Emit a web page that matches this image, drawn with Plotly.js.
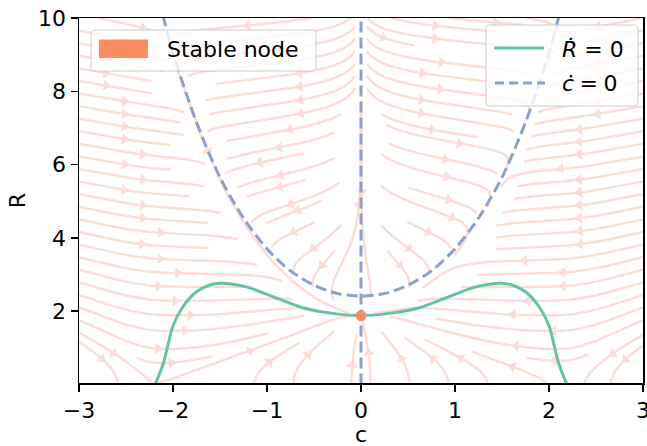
<!DOCTYPE html>
<html><head><meta charset="utf-8">
<script src="https://cdn.plot.ly/plotly-3.0.1.min.js"></script>
<style>html,body{margin:0;padding:0;background:#fff}</style>
</head><body>
<div id="chart" style="width:647px;height:446px"></div>
<script>
// ---- values ----
const rdotC = [-2.19, -2.1, -2.0, -1.9, -1.75, -1.6, -1.5, -1.4, -1.2, -0.9, -0.6, -0.3, 0, 0.3, 0.6, 0.9, 1.2, 1.4, 1.5, 1.6, 1.75, 1.9, 2.0, 2.1, 2.19];
const rdotR = [0.0, 0.6, 1.6, 2.1, 2.53, 2.72, 2.76, 2.75, 2.65, 2.36, 2.08, 1.94, 1.88, 1.94, 2.08, 2.36, 2.65, 2.75, 2.76, 2.72, 2.53, 2.1, 1.6, 0.6, 0.0];
const cdotC = [-2.15, -2.0, -1.75, -1.5, -1.25, -1.0, -0.75, -0.5, -0.25, 0, 0.25, 0.5, 0.75, 1.0, 1.25, 1.5, 1.75, 2.0, 2.15];
const cdotR = [10.5, 9.05, 7.15, 5.65, 4.54, 3.70, 3.10, 2.71, 2.48, 2.41, 2.48, 2.71, 3.10, 3.70, 4.54, 5.65, 7.15, 9.05, 10.5];
const axisLineC = [0, 0];
const axisLineR = [0, 10];
const nodeC = [0];
const nodeR = [1.88];
const xTicks = [-3, -2, -1, 0, 1, 2, 3];
const yTicks = [2, 4, 6, 8, 10];
const xRange = [-3, 3];
const yRange = [0.04, 10];

// ---- direction field built from the nullclines (only used to trace the faint streamlines) ----
function interp(xs, ys, x) {
  const n = xs.length;
  let i = 0;
  if (x <= xs[0]) i = 0;
  else if (x >= xs[n - 1]) i = n - 2;
  else { while (xs[i + 1] < x) i++; }
  const t = (x - xs[i]) / (xs[i + 1] - xs[i]);
  return ys[i] + t * (ys[i + 1] - ys[i]);
}
function Pf(c) { return interp(cdotC, cdotR, c); }
function Gf(c) {
  const a = Math.abs(c), cmax = rdotC[rdotC.length - 1];
  if (a > cmax) return -60 * (a - cmax);
  return interp(rdotC, rdotR, c);
}
function vel(c, R) { return [c * (R - Pf(c)), 2.0 * (Gf(c) - R) / R]; }

// ---- streamplot (same scheme as matplotlib: 30x30 mask, RK12, midpoint arrows) ----
const NM = 30;
const mask = new Uint8Array(NM * NM);
const X0 = xRange[0], XW = xRange[1] - xRange[0], Y0 = yRange[0], YW = yRange[1] - yRange[0];
const OOB = {}, TERM = {};
function inside(x, y) { return x >= 0 && x <= 1 && y >= 0 && y <= 1; }
function f(ax, ay, sgn) {
  if (!inside(ax, ay)) throw OOB;
  const w = vel(X0 + ax * XW, Y0 + ay * YW);
  const ua = w[0] / XW, va = w[1] / YW;
  const sp = Math.hypot(ua, va);
  if (!(sp > 0) || !isFinite(sp)) throw TERM;
  return [sgn * ua / sp, sgn * va / sp];
}
let cur = null, trajCells = [];
function cellOf(ax, ay) { return [Math.floor(ax * (NM - 1) + 0.5), Math.floor(ay * (NM - 1) + 0.5)]; }
function update(ax, ay) {
  if (!inside(ax, ay)) return false;
  const m = cellOf(ax, ay);
  if (cur === null || m[0] !== cur[0] || m[1] !== cur[1]) {
    const idx = m[1] * NM + m[0];
    if (mask[idx] === 0) { trajCells.push(idx); mask[idx] = 1; cur = m; return true; }
    return false;
  }
  return true;
}
function euler(pts, sgn) {
  const p = pts[pts.length - 1];
  let c;
  try { c = f(p[0], p[1], sgn); } catch (e) { return 0; }
  const dsx = c[0] === 0 ? Infinity : (c[0] < 0 ? p[0] / -c[0] : (1 - p[0]) / c[0]);
  const dsy = c[1] === 0 ? Infinity : (c[1] < 0 ? p[1] / -c[1] : (1 - p[1]) / c[1]);
  const ds = Math.min(dsx, dsy);
  pts.push([p[0] + c[0] * ds, p[1] + c[1] * ds]);
  return ds;
}
function rk12(x0, y0, sgn) {
  const maxds = 1 / NM, maxerr = 0.003, maxlen = 4.0;
  let ds = maxds, stotal = 0, xi = x0, yi = y0;
  const pts = [];
  while (true) {
    let k1, k2;
    if (inside(xi, yi)) pts.push([xi, yi]);
    try {
      if (!inside(xi, yi)) throw OOB;
      k1 = f(xi, yi, sgn);
      k2 = f(xi + ds * k1[0], yi + ds * k1[1], sgn);
    } catch (e) {
      if (e === OOB && pts.length) stotal += euler(pts, sgn);
      break;
    }
    const dx1 = ds * k1[0], dy1 = ds * k1[1];
    const dx2 = ds * 0.5 * (k1[0] + k2[0]), dy2 = ds * 0.5 * (k1[1] + k2[1]);
    const err = Math.hypot(dx2 - dx1, dy2 - dy1);
    if (err < maxerr) {
      xi += dx2; yi += dy2;
      if (!update(xi, yi)) break;
      if (stotal + ds > maxlen) break;
      stotal += ds;
    }
    ds = err === 0 ? maxds : Math.min(maxds, 0.85 * ds * Math.sqrt(maxerr / err));
  }
  return [stotal, pts];
}
function integrate(x0, y0) {
  trajCells = []; cur = null;
  if (!update(x0, y0)) return null;
  const b = rk12(x0, y0, -1);
  cur = cellOf(x0, y0);
  const fw = rk12(x0, y0, 1);
  const pts = b[1].reverse().concat(fw[1].slice(1));
  if (b[0] + fw[0] > 0.1) return pts;
  trajCells.forEach(i => { mask[i] = 0; });
  return null;
}
function* spiral(n) {
  let xf = 0, yf = 1, xl = n - 1, yl = n - 1, x = 0, y = 0, dir = 'right';
  for (let i = 0; i < n * n; i++) {
    yield [x, y];
    if (dir === 'right') { x++; if (x >= xl) { xl--; dir = 'up'; } }
    else if (dir === 'up') { y++; if (y >= yl) { yl--; dir = 'left'; } }
    else if (dir === 'left') { x--; if (x <= xf) { xf++; dir = 'down'; } }
    else { y--; if (y <= yf) { yf++; dir = 'right'; } }
  }
}
const trajs = [];
for (const [xm, ym] of spiral(NM)) {
  if (mask[ym * NM + xm] === 0) {
    const t = integrate(xm / (NM - 1), ym / (NM - 1));
    if (t && t.length > 1) trajs.push(t);
  }
}
const slX = [], slY = [], arX = [], arY = [], arA = [];
const pxPerX = 564 / XW, pxPerY = 365 / YW;
trajs.forEach(t => {
  const tx = t.map(p => X0 + p[0] * XW), ty = t.map(p => Y0 + p[1] * YW);
  for (let i = 0; i < tx.length; i++) { slX.push(tx[i]); slY.push(ty[i]); }
  slX.push(null); slY.push(null);
  const s = []; let acc = 0;
  for (let i = 1; i < tx.length; i++) { acc += Math.hypot(tx[i] - tx[i - 1], ty[i] - ty[i - 1]); s.push(acc); }
  let n = 0; while (n < s.length - 1 && s[n] < acc / 2) n++;
  const hx = (tx[n] + tx[n + 1]) / 2, hy = (ty[n] + ty[n + 1]) / 2;
  const dxp = (tx[n + 1] - tx[n]) * pxPerX, dyp = -(ty[n + 1] - ty[n]) * pxPerY;
  arX.push(hx); arY.push(hy); arA.push(Math.atan2(dxp, -dyp) * 180 / Math.PI);
});

const pink = '#fddbd6';
const FONT = 'DejaVu Sans, Verdana, sans-serif';
const traces = [
  { x: slX, y: slY, type: 'scatter', mode: 'lines', line: { color: pink, width: 2.4 }, hoverinfo: 'skip', showlegend: false },
  { x: arX, y: arY, type: 'scatter', mode: 'markers', marker: { symbol: 'triangle-up', size: 10, angle: arA, color: pink, line: { width: 0 } }, hoverinfo: 'skip', showlegend: false },
  { x: rdotC, y: rdotR, type: 'scatter', mode: 'lines', line: { color: '#66c2a5', width: 3, shape: 'spline', smoothing: 0.8 }, name: 'Ṙ = 0', showlegend: false },
  { x: cdotC, y: cdotR, type: 'scatter', mode: 'lines', line: { color: '#8da0cb', width: 3, dash: '11px,5px', shape: 'spline', smoothing: 0.8 }, name: 'ċ = 0', showlegend: false },
  { x: axisLineC, y: axisLineR, type: 'scatter', mode: 'lines', line: { color: '#8da0cb', width: 3, dash: '11px,5px' }, showlegend: false },
  { x: nodeC, y: nodeR, type: 'scatter', mode: 'markers', marker: { color: '#fc8d62', size: 11 }, name: 'Stable node', showlegend: false, cliponaxis: false }
];

// legend drawn as shapes/annotations in paper coordinates (converted from pixel layout)
const PX = px => (px - 79) / 564, PY = py => (383 - py) / 365;
function roundRect(x0, y0, x1, y1, r) {
  const X = v => PX(v).toFixed(5), Y = v => PY(v).toFixed(5);
  return `M${X(x0 + r)},${Y(y0)} L${X(x1 - r)},${Y(y0)} Q${X(x1)},${Y(y0)} ${X(x1)},${Y(y0 + r)} ` +
    `L${X(x1)},${Y(y1 - r)} Q${X(x1)},${Y(y1)} ${X(x1 - r)},${Y(y1)} L${X(x0 + r)},${Y(y1)} ` +
    `Q${X(x0)},${Y(y1)} ${X(x0)},${Y(y1 - r)} L${X(x0)},${Y(y0 + r)} Q${X(x0)},${Y(y0)} ${X(x0 + r)},${Y(y0)} Z`;
}
const shapes = [
  { type: 'path', xref: 'paper', yref: 'paper', path: roundRect(91, 30, 316, 71, 4), fillcolor: 'rgba(255,255,255,0.8)', line: { color: '#cccccc', width: 1 }, layer: 'above' },
  { type: 'rect', xref: 'paper', yref: 'paper', x0: PX(99), x1: PX(148), y0: PY(58), y1: PY(39.5), fillcolor: '#fc8d62', line: { width: 0 }, layer: 'above' },
  { type: 'path', xref: 'paper', yref: 'paper', path: roundRect(486, 25, 638, 106, 4), fillcolor: 'rgba(255,255,255,0.8)', line: { color: '#cccccc', width: 1 }, layer: 'above' },
  { type: 'line', xref: 'paper', yref: 'paper', x0: PX(494), x1: PX(544), y0: PY(48), y1: PY(48), line: { color: '#66c2a5', width: 3 }, layer: 'above' },
  { type: 'line', xref: 'paper', yref: 'paper', x0: PX(495), x1: PX(545), y0: PY(83), y1: PY(83), line: { color: '#8da0cb', width: 3, dash: '9px,5px' }, layer: 'above' }
];
const annFont = { family: FONT, size: 22, color: '#000' };
const annotations = [
  { xref: 'paper', yref: 'paper', x: PX(166), y: PY(49.5), xanchor: 'left', yanchor: 'middle', text: 'Stable node', showarrow: false, font: annFont, borderpad: 0 },
  { xref: 'paper', yref: 'paper', x: PX(561), y: PY(49.5), xanchor: 'left', yanchor: 'middle', text: '<i>Ṙ</i> = 0', showarrow: false, font: annFont, borderpad: 0 },
  { xref: 'paper', yref: 'paper', x: PX(561), y: PY(83.5), xanchor: 'left', yanchor: 'middle', text: '<i>ċ</i>\u2005=\u20050', showarrow: false, font: annFont, borderpad: 0 },
  { xref: 'paper', yref: 'paper', x: 0.5, y: PY(434.5), xanchor: 'center', yanchor: 'middle', text: 'c', showarrow: false, font: annFont, borderpad: 0 }
];

const axisCommon = {
  showgrid: false, zeroline: false, showline: true, mirror: true, linecolor: '#000', linewidth: 1.5,
  ticks: 'outside', ticklen: 7, tickwidth: 1.5, tickcolor: '#000', ticklabeloverflow: 'allow',
  tickfont: { family: FONT, size: 22, color: '#000' }
};
const layout = {
  width: 647, height: 446,
  margin: { l: 79, r: 4, t: 18, b: 63, pad: 0 },
  paper_bgcolor: '#fff', plot_bgcolor: '#fff',
  font: { family: FONT, size: 22, color: '#000' },
  xaxis: Object.assign({}, axisCommon, { range: xRange, tickvals: xTicks, ticktext: xTicks.map(v => v < 0 ? '\u2212' + Math.abs(v) : String(v)) }),
  yaxis: Object.assign({}, axisCommon, { range: yRange, tickvals: yTicks, ticktext: yTicks.map(String), title: { text: 'R', font: { family: FONT, size: 22 }, standoff: 6 } }),
  shapes: shapes,
  annotations: annotations,
  showlegend: false
};
Plotly.newPlot('chart', traces, layout, { displayModeBar: false, staticPlot: true });
</script>
</body></html>
